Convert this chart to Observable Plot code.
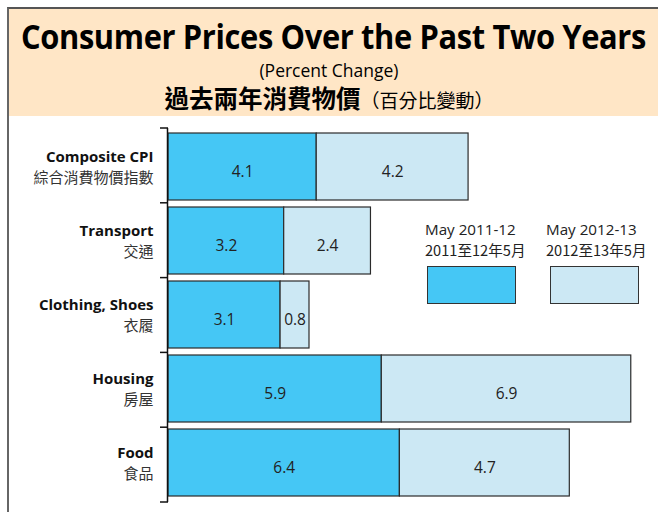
<!DOCTYPE html>
<html>
<head>
<meta charset="utf-8">
<script src="https://cdn.jsdelivr.net/npm/d3@7"></script>
<script src="https://cdn.jsdelivr.net/npm/@observablehq/plot@0.6"></script>
<style>
  html, body { margin: 0; padding: 0; background: #fff; }
  #wrap { position: relative; width: 658px; height: 512px; overflow: hidden; background: #fff; font-family: "Open Sans", sans-serif; }
  #frame { position: absolute; left: 7px; top: 7px; right: -4px; bottom: -4px; border-top: 2px solid #555; border-left: 2px solid #666; }
  #header { position: absolute; left: 9px; top: 9px; width: 649px; height: 107px; background: #FFE6C6; }
  .t { position: absolute; left: -300px; width: 1258px; text-align: center; white-space: nowrap; color: #000; }
  #title { top: 19px; left: -296px; font-size: 34px; font-weight: 700; line-height: 34px; letter-spacing: -0.4px; }
  #title span { display: inline-block; transform-origin: center; }
  #sub { top: 61px; font-size: 17.5px; line-height: 19px; }
  #zh { top: 85px; font-family: "Noto Sans CJK TC", sans-serif; line-height: 26px; }
  #zh b { font-size: 24.5px; font-weight: 700; }
  #zh span { font-size: 19px; font-weight: 400; }
  #chart { position: absolute; left: 0; top: 116px; }
  .leg { position: absolute; font-size: 15.2px; line-height: 15px; color: #222; white-space: nowrap; }
  .leg.zh { font-family: "Noto Sans CJK TC", "Open Sans", sans-serif; font-size: 14.6px; }
  .sw { position: absolute; border: 1.5px solid #333; box-sizing: border-box; }
</style>
</head>
<body>
<div id="wrap">
  <div id="header"></div>
  <div id="frame"></div>
  <div class="t" id="title"><span>Consumer Prices Over the Past Two Years</span></div>
  <div class="t" id="sub">(Percent Change)</div>
  <div class="t" id="zh"><b>過去兩年消費物價</b><span>（百分比變動）</span></div>
  <div id="chart"></div>
  <div id="legend"></div>
</div>
<script>
// ---- data ----
const categories = ["Composite CPI", "Transport", "Clothing, Shoes", "Housing", "Food"];
const categoriesZh = ["綜合消費物價指數", "交通", "衣履", "房屋", "食品"];
const seriesNames = ["May 2011-12", "May 2012-13"];
const seriesNamesZh = ["2011至12年5月", "2012至13年5月"];
const values2011 = [4.1, 3.2, 3.1, 5.9, 6.4];
const values2012 = [4.2, 2.4, 0.8, 6.9, 4.7];
const colors = ["#45C7F5", "#CCE8F4"];

const rows = [];
categories.forEach((c, i) => {
  rows.push({cat: c, series: seriesNames[0], value: values2011[i]});
  rows.push({cat: c, series: seriesNames[1], value: values2012[i]});
});
const labelRows = categories.map((c, i) => ({cat: c, zh: categoriesZh[i]}));

// boundary ticks + axis line on the category axis
function boundaryTicks(index, scales, values, dims) {
  const g = d3.create("svg:g").attr("stroke", "#111").attr("stroke-width", 1.5);
  const x0 = scales.x(0);
  const top = dims.marginTop, bot = dims.height - dims.marginBottom;
  const n = categories.length;
  for (let i = 0; i <= n; i++) {
    const v = top + (bot - top) * i / n;
    g.append("line").attr("x1", x0 - 8).attr("x2", x0).attr("y1", v).attr("y2", v);
  }
  g.append("line").attr("x1", x0 - 0.5).attr("x2", x0 - 0.5).attr("y1", top).attr("y2", bot);
  return g.node();
}

const plot = Plot.plot({
  width: 658,
  height: 396,
  marginLeft: 168,
  marginRight: 20,
  marginTop: 12,
  marginBottom: 10,
  style: {background: "transparent", fontFamily: "Open Sans, sans-serif"},
  x: {domain: [0, 13], axis: null},
  y: {domain: categories, axis: null, paddingInner: 0.09, paddingOuter: 0.045},
  color: {domain: seriesNames, range: colors},
  marks: [
    Plot.barX(rows, Plot.stackX({x: "value", y: "cat", fill: "series", order: seriesNames, stroke: "#2b2b2b", strokeWidth: 1.2})),
    Plot.text(rows, Plot.stackX({x: "value", y: "cat", z: "series", order: seriesNames, text: d => d.value.toFixed(1), fill: "#222", fontSize: 15.5, dy: 5})),
    boundaryTicks,
    Plot.text(labelRows, {y: "cat", frameAnchor: "left", text: "cat", textAnchor: "end", dx: -15, dy: -10, fontSize: 15, fontWeight: 700, fill: "#111"}),
    Plot.text(labelRows, {y: "cat", frameAnchor: "left", text: "zh", textAnchor: "end", dx: -15, dy: 11, fontSize: 15, fill: "#333", fontFamily: "Noto Sans CJK TC, sans-serif"})
  ]
});
document.getElementById("chart").appendChild(plot);

// legend
const legend = document.getElementById("legend");
const legX = [425, 546];
const swX = [427, 550];
seriesNames.forEach((s, i) => {
  const t = document.createElement("div");
  t.className = "leg";
  t.style.left = legX[i] + "px";
  t.style.top = "222px";
  t.textContent = s;
  legend.appendChild(t);
  const t2 = document.createElement("div");
  t2.className = "leg zh";
  t2.style.left = legX[i] + "px";
  t2.style.top = "242px";
  t2.textContent = seriesNamesZh[i];
  legend.appendChild(t2);
  const sw = document.createElement("div");
  sw.className = "sw";
  sw.style.left = swX[i] + "px";
  sw.style.top = "266px";
  sw.style.width = "89px";
  sw.style.height = "38px";
  sw.style.background = colors[i];
  legend.appendChild(sw);
});

// fit title width
const ts = document.querySelector("#title span");
const w = ts.getBoundingClientRect().width;
ts.style.transform = `scaleX(${625 / w})`;
</script>
</body>
</html>
